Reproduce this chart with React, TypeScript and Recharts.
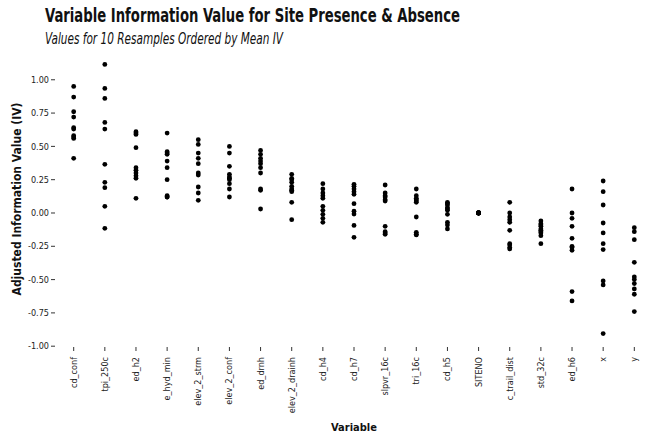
import { ScatterChart, Scatter, XAxis, YAxis, Label } from "recharts";

const variables = [
  "cd_conf", "tpi_250c", "ed_h2", "e_hyd_min", "elev_2_strm", "elev_2_conf",
  "ed_drnh", "elev_2_drainh", "cd_h4", "cd_h7", "slpvr_16c", "tri_16c",
  "cd_h5", "SITENO", "c_trail_dist", "std_32c", "ed_h6", "x", "y",
];

// 10 resample IVs per variable, same order as `variables`
const ivValues: number[][] = [
  [0.95, 0.87, 0.76, 0.72, 0.64, 0.63, 0.58, 0.57, 0.56, 0.41],
  [1.115, 0.935, 0.86, 0.68, 0.63, 0.365, 0.23, 0.19, 0.05, -0.115],
  [0.61, 0.6, 0.59, 0.49, 0.34, 0.32, 0.3, 0.28, 0.26, 0.11],
  [0.6, 0.46, 0.45, 0.44, 0.39, 0.34, 0.25, 0.13, 0.12, 0.12],
  [0.55, 0.515, 0.45, 0.41, 0.37, 0.3, 0.285, 0.195, 0.15, 0.095],
  [0.5, 0.45, 0.35, 0.29, 0.27, 0.26, 0.25, 0.22, 0.18, 0.12],
  [0.47, 0.44, 0.41, 0.39, 0.37, 0.34, 0.3, 0.18, 0.17, 0.03],
  [0.29, 0.26, 0.25, 0.23, 0.2, 0.18, 0.17, 0.16, 0.08, -0.05],
  [0.22, 0.18, 0.15, 0.13, 0.11, 0.05, 0.02, -0.01, -0.04, -0.07],
  [0.215, 0.2, 0.18, 0.16, 0.14, 0.07, 0.013, -0.008, -0.093, -0.183],
  [0.21, 0.15, 0.13, 0.12, 0.1, 0.09, -0.1, -0.14, -0.15, -0.16],
  [0.18, 0.13, 0.11, 0.1, 0.09, 0.08, -0.03, -0.145, -0.16, -0.165],
  [0.08, 0.07, 0.06, 0.04, 0.03, 0.02, -0.01, -0.07, -0.09, -0.12],
  [0, 0, 0, 0, 0, 0, 0, 0, 0, 0],
  [0.08, 0.0, -0.03, -0.05, -0.07, -0.13, -0.23, -0.24, -0.26, -0.27],
  [-0.06, -0.08, -0.09, -0.1, -0.12, -0.13, -0.14, -0.15, -0.17, -0.23],
  [0.18, 0.0, -0.04, -0.1, -0.19, -0.25, -0.26, -0.28, -0.59, -0.66],
  [0.24, 0.16, 0.06, -0.075, -0.15, -0.23, -0.275, -0.51, -0.54, -0.905],
  [-0.11, -0.14, -0.2, -0.37, -0.48, -0.5, -0.53, -0.57, -0.61, -0.74],
];

const yTicks = [-1, -0.75, -0.5, -0.25, 0, 0.25, 0.5, 0.75, 1];

const FONT = '"DejaVu Sans Condensed", "DejaVu Sans", sans-serif';

const points = ivValues.flatMap((vals, i) => vals.map((v) => ({ idx: i, iv: v })));

function XTick(props: any) {
  const { x, y, payload } = props;
  return (
    <text
      x={x}
      y={y + 4}
      transform={`rotate(-90, ${x}, ${y + 4})`}
      textAnchor="end"
      dominantBaseline="central"
      fontSize={9}
      fontFamily={FONT}
      fill="#222"
    >
      {variables[payload.value]}
    </text>
  );
}

export default function App() {
  return (
    <div style={{ position: "absolute", left: 0, top: 0, width: 660, height: 440, background: "#fff" }}>
      <svg width={660} height={50} style={{ position: "absolute", left: 0, top: 0 }}>
        <text x={45} y={22} fontFamily={FONT} fontWeight={700} fontSize={19} fill="#111" textLength={415} lengthAdjust="spacingAndGlyphs">
          Variable Information Value for Site Presence &amp; Absence
        </text>
        <text x={45} y={44} fontFamily={FONT} fontStyle="italic" fontSize={15} fill="#111" textLength={238} lengthAdjust="spacingAndGlyphs">
          Values for 10 Resamples Ordered by Mean IV
        </text>
      </svg>
      <ScatterChart width={660} height={440} margin={{ top: 51, right: 7, left: 0, bottom: 0 }}>
        <XAxis
          type="number"
          dataKey="idx"
          domain={[-0.6, 18.6]}
          ticks={variables.map((_, i) => i)}
          interval={0}
          height={93}
          axisLine={false}
          tickSize={4}
          tickLine={{ stroke: "#333", strokeWidth: 1 }}
          tick={<XTick />}
        >
          <Label value="Variable" position="insideBottom" offset={9} fontSize={11} fontWeight={700} fontFamily={FONT} fill="#111" />
        </XAxis>
        <YAxis
          type="number"
          dataKey="iv"
          domain={[-1.006, 1.216]}
          ticks={yTicks}
          width={55}
          axisLine={false}
          tickSize={4}
          tickLine={{ stroke: "#333", strokeWidth: 1 }}
          tickFormatter={(v: number) => v.toFixed(2)}
          tick={{ fontSize: 9, fontFamily: FONT, fill: "#222" }}
        >
          <Label value="Adjusted Information Value (IV)" angle={-90} position="insideLeft" offset={17} fontSize={12} fontWeight={700} fontFamily={FONT} fill="#111" style={{ textAnchor: "middle" }} />
        </YAxis>
        <Scatter data={points} fill="#000" isAnimationActive={false} shape={(p: any) => <circle cx={p.cx} cy={p.cy} r={2.4} fill="#000" />} />
      </ScatterChart>
    </div>
  );
}
